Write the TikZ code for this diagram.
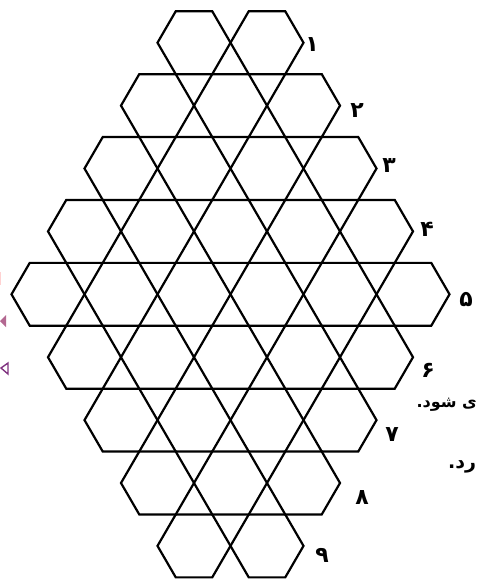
\documentclass[tikz,border=0pt]{standalone}
\usepackage{fontspec}
\usepackage{tikz}
\newfontfamily\pfont[Script=Arabic]{DejaVu Sans}
\TeXXeTstate=1
\tikzset{
  hexline/.style={line width=2.2pt, line join=miter, black},
  rowlabel/.style={inner sep=0pt, font=\pfont\bfseries\fontsize{22}{24}\selectfont},
  cuttext/.style={inner sep=0pt, font=\pfont\bfseries\fontsize{16}{18}\selectfont}
}

\begin{document}
\begin{tikzpicture}[x=1pt, y=-1pt]
\useasboundingbox (0,0) rectangle (478,584);
% rows 1..9 of hexagons, 2-3-4-5-6-5-4-3-2, side vertices touching
\foreach \r in {1,...,9} {
  \pgfmathtruncatemacro{\cnt}{6-abs(\r-5)}
  \pgfmathsetmacro{\yc}{42.7+(\r-1)*62.9}
  \foreach \k in {1,...,\cnt} {
    \pgfmathsetmacro{\xc}{230.5+(2*\k-\cnt-1)*36.5}
    \draw[hexline] (\xc,\yc) ++(-36.5,0) -- ++(18.25,-31.45) -- ++(36.5,0)
      -- ++(18.25,31.45) -- ++(-18.25,31.45) -- ++(-36.5,0) -- cycle;
  }
}

% row numbers
\node[rowlabel] (l1) at (312,45) {۱};
\node[rowlabel] (l2) at (357,111) {۲};
\node[rowlabel] (l3) at (389,166) {۳};
\node[rowlabel] (l4) at (427,229) {۴};
\node[rowlabel] (l5) at (466,300) {۵};
\node[rowlabel] (l6) at (428,370) {۶};
\node[rowlabel] (l7) at (392,435) {۷};
\node[rowlabel] (l8) at (362,498) {۸};
\node[rowlabel] (l9) at (322,555) {۹};

% text at the right edge
\node[cuttext, anchor=east] (t1) at (477,405) {\beginR ی شود.\endR};
\node[cuttext, anchor=west, font=\pfont\bfseries\fontsize{19}{21}\selectfont] (t2) at (448,467) {\beginR رد.\endR};

% marks at the left edge
\fill[magenta!60!black, opacity=0.8] (0,321) -- (6,315) -- (6,327) -- cycle;
\draw[violet!60!gray, line width=1.4pt] (1,368) -- (8,363) -- (8,374) -- cycle;
\draw[pink!70, line width=1pt] (0.5,272) -- (0.5,285);
\end{tikzpicture}
\end{document}
